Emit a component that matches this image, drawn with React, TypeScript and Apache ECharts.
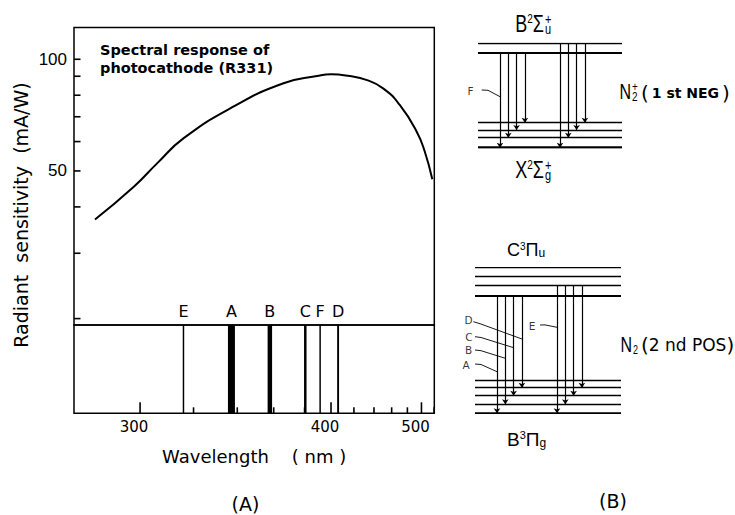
import React, { useEffect, useRef } from "react";
import * as echarts from "echarts";

// ---- Spectral response of the R331 photocathode ----
const WAVELENGTH_NM = [286, 298, 306, 316, 338, 366, 389, 400, 416, 432, 450, 470, 493, 505, 517];
const SENSITIVITY_MA_W = [37.0, 45.4, 52.5, 61.3, 74.5, 86.2, 90.1, 91.1, 90.1, 88.0, 83.5, 75.3, 63.8, 56.4, 47.5];

// ---- Emission lines: N2 2nd positive and N2+ 1st negative bands ----
const LINE_LABELS = ["E", "A", "B", "C", "F", "D"];
const LINE_NM = [315.9, 337.1, 357.7, 380.5, 391.4, 405.9];
const LINE_INTENSITY = [8, 100, 58, 25, 8, 15];
const LINE_SYSTEM = ["N2", "N2", "N2", "N2", "N2+", "N2"];
const LINE_V_UPPER = [1, 0, 0, 0, 0, 0];
const LINE_V_LOWER = [0, 0, 1, 2, 0, 3];

// ---- Axis ranges and ticks ----
const WAVELENGTH_RANGE = [280.2, 520.3];
const WAVELENGTH_LABELS = [300, 400, 500];
const WAVELENGTH_MINOR = [320, 340, 360, 380, 420, 440, 460, 480, 520];
const SENSITIVITY_RANGE = [19.22, 121.8];
const SENSITIVITY_TICKS = [20, 30, 40, 50, 60, 70, 80, 90, 100];
const SENSITIVITY_LABELS = [50, 100];

// ---- Vibrational level schemes (schematic heights, index = v) ----
const N2P_X_LEVELS = [0, 10, 17.7, 25];
const N2P_B_LEVELS = [95.4, 104.4];
const N2_B_LEVELS = [0, 9, 17.6, 25.6, 33.3];
const N2_C_LEVELS = [117.3, 127.6, 137.3, 145.6];
const BAND_UPPER_V = [0, 1];
const BAND_LOWER_V = [0, 1, 2, 3];

const INK = "#000";
const FONT = "DejaVu Sans";
const FONT_N = "Liberation Sans";

// Plot frame (px)
const PLOT_LEFT = 74;
const PLOT_WIDTH = 360.3;
const CURVE_TOP = 27.5;
const CURVE_HEIGHT = 297.5;
const STRIP_HEIGHT = 88.3;
const TICK_MAJOR = 11;
const TICK_MINOR = 6;
const TICK_WIDTH = 1.6;

// Prism spectrograph scale (Hartmann dispersion): position ~ -1/(lambda - lambda0)
const HARTMANN_L0 = 120;
const disp = (nm: number) => -1000 / (nm - HARTMANN_L0);
const undisp = (u: number) => HARTMANN_L0 - 1000 / u;
const lg = (v: number) => Math.log10(v);

const uMin = disp(WAVELENGTH_RANGE[0]);
const uMax = disp(WAVELENGTH_RANGE[1]);

// Columns of transition arrows in the level schemes
const COLUMN_START = [22, 82];
const COLUMN_STEP = 8.3;
const transX = (vu: number, vl: number) => COLUMN_START[vu] + vl * COLUMN_STEP;

const SCHEME_AXES: Record<string, { x: number; y: number; span: number[] }> = {
  "N2+": { x: 2, y: 2, span: [0, 144] },
  N2: { x: 3, y: 3, span: [0, 146] },
};

// Letter tags and their leader lines in the level schemes
const LEADER_LAYOUT: Record<string, { text: number[]; path: number[][]; endY: number }> = {
  F: { text: [-7.5, 57.2], path: [[3.7, 57.7], [10, 57.4]], endY: 51 },
  A: { text: [-9, 48.3], path: [[0, 49.3], [6, 48.8]], endY: 41.6 },
  B: { text: [-6.5, 63.3], path: [[0, 63.3], [6, 62.6]], endY: 55 },
  C: { text: [-6, 76.3], path: [[0, 76.6], [6, 75.8]], endY: 65.6 },
  D: { text: [-6.5, 93.8], path: [[-1.7, 91.6], [5, 89.6]], endY: 74.3 },
  E: { text: [57, 87.3], path: [[65, 88.3], [70, 88.4]], endY: 86 },
};

const segmentSeries = (xAxisIndex: number, yAxisIndex: number, data: any[], width: number, extra: any = {}) => ({
  type: "lines",
  coordinateSystem: "cartesian2d",
  xAxisIndex,
  yAxisIndex,
  silent: true,
  lineStyle: { color: INK, width, opacity: 1 },
  data,
  ...extra,
});

function levelSeries(levels: number[], system: string, lowerState: boolean) {
  const ax = SCHEME_AXES[system];
  return segmentSeries(
    ax.x,
    ax.y,
    levels.map((h, v) => ({
      coords: [[ax.span[0], h], [ax.span[1], h]],
      lineStyle: { width: v === 0 ? (lowerState ? 2.6 : 2.2) : 1.4 },
    })),
    1.4
  );
}

function transitionSeries(upper: number[], lower: number[], system: string) {
  const ax = SCHEME_AXES[system];
  const data: any[] = [];
  BAND_UPPER_V.forEach((vu) => {
    BAND_LOWER_V.forEach((vl) => {
      const x = transX(vu, vl);
      data.push({ coords: [[x, upper[vu]], [x, lower[vl]]] });
    });
  });
  return segmentSeries(ax.x, ax.y, data, 1.2, { symbol: ["none", "arrow"], symbolSize: 5 });
}

function leaderSeries(system: string) {
  const ax = SCHEME_AXES[system];
  const idx = LINE_LABELS.map((_, i) => i).filter((i) => LINE_SYSTEM[i] === system);
  return [
    segmentSeries(
      ax.x,
      ax.y,
      idx.map((i) => {
        const lay = LEADER_LAYOUT[LINE_LABELS[i]];
        return { coords: [...lay.path, [transX(LINE_V_UPPER[i], LINE_V_LOWER[i]), lay.endY]] };
      }),
      0.9,
      { polyline: true }
    ),
    {
      type: "scatter",
      xAxisIndex: ax.x,
      yAxisIndex: ax.y,
      silent: true,
      symbolSize: 0,
      label: {
        show: true,
        position: "inside",
        formatter: "{b}",
        fontFamily: FONT,
        fontSize: 10.5,
        color: INK,
      },
      data: idx.map((i) => ({ name: LINE_LABELS[i], value: LEADER_LAYOUT[LINE_LABELS[i]].text })),
    },
  ];
}

function stackedTerm(x: number, y: number, main: string, mainRich: any, stack: string, size: number, small: number, scaleY: number) {
  return {
    type: "group",
    x,
    y,
    scaleY,
    silent: true,
    children: [
      {
        type: "text",
        style: { text: main, rich: mainRich, fontSize: size, fontFamily: FONT_N, fill: INK, align: "right", verticalAlign: "middle" },
      },
      {
        type: "text",
        x: 1,
        style: { text: stack, fontSize: small, lineHeight: small * 0.7, fontFamily: FONT_N, fill: INK, align: "left", verticalAlign: "middle" },
      },
    ],
  };
}

const termRich = (size: number) => ({
  m: { fontSize: size, fontFamily: FONT_N, fill: INK },
  p: { fontSize: Math.round(size * 0.58), fontFamily: FONT_N, fill: INK, verticalAlign: "top" },
  s: { fontSize: Math.round(size * 0.65), fontFamily: FONT_N, fill: INK, verticalAlign: "bottom" },
});

// Inward wavelength ticks, positioned through the strip's axes
function wavelengthTicks(api: any) {
  const mk = (nm: number, len: number) => {
    const p = api.coord([disp(nm), 0]);
    return {
      type: "rect",
      shape: { x: p[0] - TICK_WIDTH / 2, y: p[1] - len, width: TICK_WIDTH, height: len },
      style: { fill: INK },
    };
  };
  return [
    ...WAVELENGTH_LABELS.map((nm) => mk(nm, TICK_MAJOR)),
    ...WAVELENGTH_MINOR.map((nm) => mk(nm, TICK_MINOR)),
  ];
}

function buildOption() {
  const hiddenX = (gridIndex: number, min: number, max: number) => ({ type: "value", gridIndex, min, max, show: false });
  const hiddenY = (gridIndex: number, min: number, max: number) => ({ type: "value", gridIndex, min, max, show: false });
  const frame = { show: true, borderColor: INK, borderWidth: 1.5, backgroundColor: "transparent", containLabel: false, outerBoundsMode: "none" };
  const yMin = lg(SENSITIVITY_RANGE[0]);
  const yMax = lg(SENSITIVITY_RANGE[1]);

  return {
    animation: false,
    backgroundColor: "#fff",
    textStyle: { fontFamily: FONT },
    grid: [
      { left: PLOT_LEFT, top: CURVE_TOP, width: PLOT_WIDTH, height: CURVE_HEIGHT, ...frame },
      { left: PLOT_LEFT, top: CURVE_TOP + CURVE_HEIGHT, width: PLOT_WIDTH, height: STRIP_HEIGHT, ...frame },
      { left: 463, top: 43.3, width: 159, height: 104.4, containLabel: false, outerBoundsMode: "none" },
      { left: 460, top: 267.7, width: 161, height: 145.6, containLabel: false, outerBoundsMode: "none" },
    ],
    xAxis: [
      hiddenX(0, uMin, uMax),
      {
        type: "value",
        gridIndex: 1,
        position: "bottom",
        min: uMin,
        max: uMax,
        axisLine: { show: false },
        axisTick: { show: false },
        splitLine: { show: false },
        axisLabel: {
          show: true,
          customValues: WAVELENGTH_LABELS.map(disp),
          formatter: (v: number) => String(Math.round(undisp(v))),
          fontFamily: FONT,
          fontSize: 15,
          color: INK,
          margin: 6,
          padding: [0, 12, 0, 0],
        },
        name: "Wavelength    ( nm )",
        nameLocation: "middle",
        nameGap: 34,
        nameTextStyle: { fontFamily: FONT, fontSize: 18, color: INK },
      },
      hiddenX(2, -15, 144),
      hiddenX(3, -15, 146),
    ],
    yAxis: [
      {
        type: "value",
        gridIndex: 0,
        min: yMin,
        max: yMax,
        axisLine: { show: false },
        axisTick: { show: false },
        splitLine: { show: false },
        axisLabel: {
          show: true,
          customValues: SENSITIVITY_LABELS.map(lg),
          formatter: (v: number) => String(Math.round(Math.pow(10, v))),
          fontFamily: FONT_N,
          fontSize: 17,
          color: INK,
          margin: 7,
        },
      },
      hiddenY(1, 0, 1),
      hiddenY(2, 0, 104.4),
      hiddenY(3, 0, 145.6),
    ],
    series: [
      {
        type: "line",
        xAxisIndex: 0,
        yAxisIndex: 0,
        silent: true,
        smooth: 0.5,
        showSymbol: false,
        lineStyle: { color: INK, width: 2 },
        data: WAVELENGTH_NM.map((nm, i) => [disp(nm), lg(SENSITIVITY_MA_W[i])]),
      },
      // inward ticks of the sensitivity scale, drawn from one anchor item in the middle of the plot
      {
        type: "custom",
        xAxisIndex: 0,
        yAxisIndex: 0,
        silent: true,
        encode: { x: 0, y: 1 },
        data: [[(uMin + uMax) / 2, (yMin + yMax) / 2]],
        renderItem: (_params: any, api: any) => ({
          type: "group",
          children: SENSITIVITY_TICKS.map((v) => {
            const p = api.coord([uMin, lg(v)]);
            return {
              type: "rect",
              shape: { x: p[0], y: p[1] - TICK_WIDTH / 2, width: 6.5, height: TICK_WIDTH },
              style: { fill: INK },
            };
          }),
        }),
      },
      // emission lines (the first item also carries the wavelength ticks)
      {
        type: "custom",
        xAxisIndex: 1,
        yAxisIndex: 1,
        silent: true,
        encode: { x: 0, y: 1 },
        data: LINE_NM.map((nm, i) => [disp(nm), LINE_INTENSITY[i], i]),
        renderItem: (params: any, api: any) => {
          const u = api.value(0);
          const top = api.coord([u, 1]);
          const bottom = api.coord([u, 0]);
          const w = 1 + api.value(1) * 0.06;
          const children: any[] = [
            {
              type: "rect",
              shape: { x: top[0] - w / 2, y: top[1], width: w, height: bottom[1] - top[1] },
              style: { fill: INK },
            },
            {
              type: "text",
              x: top[0],
              y: top[1] - 13.5,
              style: {
                text: LINE_LABELS[api.value(2)],
                fontFamily: FONT,
                fontSize: 16,
                fill: INK,
                align: "center",
                verticalAlign: "middle",
              },
            },
          ];
          if (params.dataIndex === 0) children.push(...wavelengthTicks(api));
          return { type: "group", children };
        },
      },
      levelSeries(N2P_B_LEVELS, "N2+", false),
      levelSeries(N2P_X_LEVELS, "N2+", true),
      transitionSeries(N2P_B_LEVELS, N2P_X_LEVELS, "N2+"),
      levelSeries(N2_C_LEVELS, "N2", false),
      levelSeries(N2_B_LEVELS, "N2", true),
      transitionSeries(N2_C_LEVELS, N2_B_LEVELS, "N2"),
      ...leaderSeries("N2+"),
      ...leaderSeries("N2"),
    ],
    graphic: [
      {
        type: "text",
        x: 21,
        y: 215,
        rotation: Math.PI / 2,
        silent: true,
        style: { text: "Radiant  sensitivity  (mA/W)", fontFamily: FONT, fontSize: 19, fill: INK, align: "center", verticalAlign: "middle" },
      },
      {
        type: "text",
        x: 100,
        y: 41,
        silent: true,
        style: {
          text: "Spectral response of\nphotocathode (R331)",
          fontFamily: FONT,
          fontSize: 14.5,
          fontWeight: "bold",
          lineHeight: 18,
          fill: INK,
          align: "left",
          verticalAlign: "top",
        },
      },
      { type: "text", x: 245.5, y: 504, silent: true, style: { text: "(A)", fontFamily: FONT, fontSize: 19, fill: INK, align: "center", verticalAlign: "middle" } },
      { type: "text", x: 613, y: 501, silent: true, style: { text: "(B)", fontFamily: FONT, fontSize: 19, fill: INK, align: "center", verticalAlign: "middle" } },
      // N2+ first negative scheme
      stackedTerm(544, 23.5, "{m|B}{p|2}{m|Σ}", termRich(18), "+\nu", 18, 11, 1.3),
      stackedTerm(544, 170, "{m|X}{p|2}{m|Σ}", termRich(18), "+\ng", 18, 11, 1.3),
      stackedTerm(631, 91.5, "N", null, "+\n2", 16, 10, 1.35),
      {
        type: "text",
        x: 641,
        y: 93,
        silent: true,
        style: {
          text: "{p|(}{b|1 st NEG}{p|)}",
          rich: {
            p: { fontFamily: FONT, fontSize: 20, fill: INK },
            b: { fontFamily: FONT, fontSize: 14, fontWeight: "bold", fill: INK, padding: [0, 3, 0, 3] },
          },
          fontSize: 20,
          align: "left",
          verticalAlign: "middle",
        },
      },
      // N2 second positive scheme
      {
        type: "text",
        x: 507,
        y: 250,
        silent: true,
        style: { text: "{m|C}{p|3}{m|Π}{s|u}", rich: termRich(18), fontSize: 18, fontFamily: FONT_N, fill: INK, align: "left", verticalAlign: "middle" },
      },
      {
        type: "text",
        x: 507,
        y: 439,
        silent: true,
        style: { text: "{m|B}{p|3}{m|Π}{s|g}", rich: termRich(19), fontSize: 19, fontFamily: FONT_N, fill: INK, align: "left", verticalAlign: "middle" },
      },
      stackedTerm(632, 345, "N", null, "\n2", 16, 9, 1.35),
      {
        type: "text",
        x: 641,
        y: 345,
        silent: true,
        style: {
          text: "{p|(}{b|2 nd POS}{p|)}",
          rich: {
            p: { fontFamily: FONT, fontSize: 20, fill: INK },
            b: { fontFamily: FONT, fontSize: 17, fill: INK },
          },
          fontSize: 20,
          align: "left",
          verticalAlign: "middle",
        },
      },
    ],
  };
}

export default function App() {
  const ref = useRef<HTMLDivElement>(null);
  useEffect(() => {
    if (!ref.current) return;
    const chart = echarts.init(ref.current, null, { renderer: "svg" });
    chart.setOption(buildOption() as any);
    return () => chart.dispose();
  }, []);
  return (
    <div
      ref={ref}
      style={{ position: "fixed", left: 0, top: 0, width: 735, height: 515, background: "#fff" }}
    />
  );
}
